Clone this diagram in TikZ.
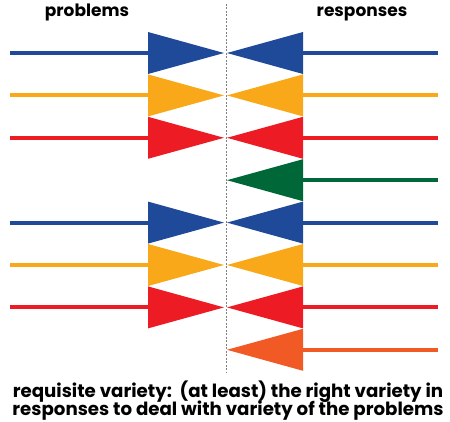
\documentclass[tikz,border=0pt]{standalone}
\usepackage{fontspec}
\setmainfont{Poppins}
\definecolor{cblue}{HTML}{1F4A99}
\definecolor{corange}{HTML}{F9A81A}
\definecolor{cred}{HTML}{ED1C24}
\definecolor{cgreen}{HTML}{006838}
\definecolor{cored}{HTML}{F15A24}
\begin{document}
\begin{tikzpicture}[x=1pt,y=-1pt,
  feed/.style={line width=4pt},
  lbl/.style={font=\fontsize{17}{19}\selectfont\bfseries, text=black, inner sep=0pt},
  captiontext/.style={font=\fontsize{18.2}{19}\selectfont\bfseries, text=black, inner sep=0pt},
]
\useasboundingbox (0,0) rectangle (450,422);
\draw[gray, line width=0.8pt, dash pattern=on 2pt off 1.5pt] (226,4) -- (226,372);
% left triangles (problems)
\foreach \y/\c in {53/cblue,95.4/corange,137.8/cred,222.6/cblue,265/corange,307.4/cred}{
  \fill[\c] (148,\y-21) -- (224,\y) -- (148,\y+21) -- cycle;
  \draw[feed,\c] (10,\y) -- (149,\y);
}
% right triangles (responses)
\foreach \y/\c in {53/cblue,95.4/corange,137.8/cred,180.2/cgreen,222.6/cblue,265/corange,307.4/cred,349.8/cored}{
  \fill[\c] (303,\y-21) -- (227,\y) -- (303,\y+21) -- cycle;
  \draw[feed,\c] (302,\y) -- (438,\y);
}
\node[lbl, anchor=base] (p) at (87,17) {problems};
\node[lbl, anchor=base] (r) at (362,17) {responses};
\node[captiontext, anchor=base] (t1) at (228,397) {requisite variety:\ \ (at least) the right variety in};
\node[captiontext, anchor=base] (t2) at (228,415.5) {responses to deal with variety of the problems};
\end{tikzpicture}
\end{document}
